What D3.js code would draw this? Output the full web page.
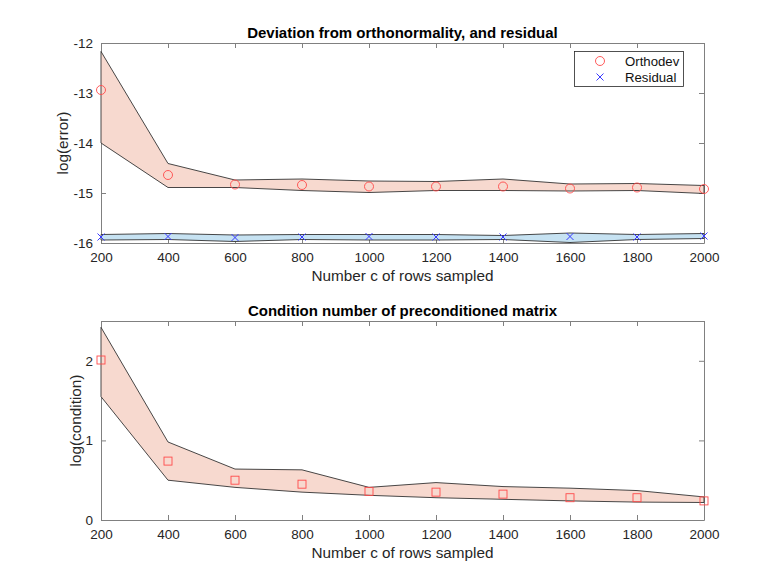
<!DOCTYPE html>
<html lang="en">
<head>
    <meta charset="UTF-8">
    <title>Orthonormality and condition number</title>
    <script src="https://d3js.org/d3.v7.min.js"></script>
    <style>
        body { margin: 0; background: #fff; }
        svg { display: block; font-family: "Liberation Sans", Arial, sans-serif; }
    </style>
</head>
<body>
    <div id="chart"></div>

    <script>
        // rows sampled
        const rows = [200, 400, 600, 800, 1000, 1200, 1400, 1600, 1800, 2000];

        // top panel: log(error)
        const orthoMean  = [-12.94, -14.64, -14.83, -14.84, -14.87, -14.87, -14.87, -14.91, -14.89, -14.92];
        const orthoUpper = [-12.17, -14.41, -14.74, -14.72, -14.76, -14.77, -14.72, -14.82, -14.81, -14.85];
        const orthoLower = [-14.00, -14.89, -14.89, -14.95, -14.99, -14.95, -14.95, -14.96, -14.95, -15.01];

        const residMean  = [-15.88, -15.87, -15.89, -15.88, -15.87, -15.88, -15.88, -15.87, -15.88, -15.86];
        const residUpper = [-15.83, -15.81, -15.84, -15.83, -15.83, -15.83, -15.85, -15.80, -15.83, -15.81];
        const residLower = [-15.94, -15.93, -15.97, -15.93, -15.94, -15.94, -15.93, -15.99, -15.93, -15.91];

        // bottom panel: log(condition)
        const condMean  = [2.01, 0.74, 0.50, 0.45, 0.36, 0.35, 0.325, 0.28, 0.28, 0.24];
        const condUpper = [2.42, 0.98, 0.64, 0.63, 0.41, 0.47, 0.42, 0.40, 0.37, 0.29];
        const condLower = [1.55, 0.50, 0.41, 0.35, 0.31, 0.28, 0.26, 0.24, 0.225, 0.22];

        const xTicks = [200, 400, 600, 800, 1000, 1200, 1400, 1600, 1800, 2000];
        const errTicks = [-16, -15, -14, -13, -12];
        const condTicks = [0, 1, 2];

        const width = 778, height = 584;
        const left = 101, right = 704;
        const axisColor = "#808080";
        const orangeFill = "#f7d9cf", blueFill = "#c6e2f2";
        const plain = d => String(d);   // ascii minus, no thousands comma

        const svg = d3.select("#chart").append("svg")
            .attr("width", width)
            .attr("height", height);

        const x = d3.scaleLinear().domain([200, 2000]).range([left, right]);

        function panel(y0, y1, yDomain, yTicks, title, yLabel, yLabelX) {
            const y = d3.scaleLinear().domain(yDomain).range([y1, y0]);
            const g = svg.append("g");

            // axes: ticks pointing inward, mirrored on top and right
            g.append("g")
                .attr("transform", `translate(0,${y1})`)
                .call(d3.axisBottom(x).tickValues(xTicks).tickFormat(plain)
                    .tickSizeInner(-5).tickSizeOuter(0).tickPadding(9));
            g.append("g")
                .attr("transform", `translate(0,${y0})`)
                .call(d3.axisTop(x).tickValues(xTicks).tickSizeInner(-5).tickSizeOuter(0).tickFormat(""));
            g.append("g")
                .attr("transform", `translate(${left},0)`)
                .call(d3.axisLeft(y).tickValues(yTicks).tickFormat(plain)
                    .tickSizeInner(-5).tickSizeOuter(0).tickPadding(8));
            g.append("g")
                .attr("transform", `translate(${right},0)`)
                .call(d3.axisRight(y).tickValues(yTicks).tickSizeInner(-5).tickSizeOuter(0).tickFormat(""));

            g.selectAll(".domain, .tick line").attr("stroke", axisColor);
            g.selectAll(".tick text")
                .attr("fill", "#262626")
                .style("font-size", "13.5px")
                .style("font-family", "Liberation Sans, Arial, sans-serif");

            g.append("text")
                .attr("x", (left + right) / 2)
                .attr("y", y0 - 5)
                .attr("text-anchor", "middle")
                .style("font-size", "15px")
                .style("font-weight", "bold")
                .text(title);

            g.append("text")
                .attr("x", (left + right) / 2)
                .attr("y", y1 + 38)
                .attr("text-anchor", "middle")
                .attr("fill", "#262626")
                .style("font-size", "15.3px")
                .text("Number c of rows sampled");

            g.append("text")
                .attr("transform", `translate(${yLabelX},${(y0 + y1) / 2}) rotate(-90)`)
                .attr("text-anchor", "middle")
                .attr("fill", "#262626")
                .style("font-size", "15.3px")
                .text(yLabel);

            return { g, y };
        }

        function band(p, upper, lower, fill) {
            const area = d3.area()
                .x((d, i) => x(rows[i]))
                .y0((d, i) => p.y(lower[i]))
                .y1((d, i) => p.y(upper[i]));
            p.g.append("path")
                .datum(rows)
                .attr("d", area)
                .attr("fill", fill)
                .attr("stroke", "#333")
                .attr("stroke-width", 0.9);
        }

        function circles(p, vals) {
            p.g.append("g").selectAll("circle")
                .data(vals).join("circle")
                .attr("cx", (d, i) => x(rows[i]))
                .attr("cy", d => p.y(d))
                .attr("r", 4.5)
                .attr("fill", "none")
                .attr("stroke", "#ff4a4a")
                .attr("stroke-width", 0.9);
        }

        function squares(p, vals) {
            p.g.append("g").selectAll("rect")
                .data(vals).join("rect")
                .attr("x", (d, i) => x(rows[i]) - 4)
                .attr("y", d => p.y(d) - 4)
                .attr("width", 8)
                .attr("height", 8)
                .attr("fill", "none")
                .attr("stroke", "#ff4a4a")
                .attr("stroke-width", 0.9);
        }

        function crosses(p, vals) {
            const s = 3.5;
            p.g.append("g").selectAll("path")
                .data(vals).join("path")
                .attr("d", (d, i) => {
                    const cx = x(rows[i]), cy = p.y(d);
                    return `M${cx - s},${cy - s}L${cx + s},${cy + s}M${cx - s},${cy + s}L${cx + s},${cy - s}`;
                })
                .attr("stroke", "#3a3aff")
                .attr("stroke-width", 1);
        }

        // top panel
        const topP = panel(43, 243, [-16, -12], errTicks,
            "Deviation from orthonormality, and residual", "log(error)", 68);
        band(topP, orthoUpper, orthoLower, orangeFill);
        band(topP, residUpper, residLower, blueFill);
        circles(topP, orthoMean);
        crosses(topP, residMean);

        // legend
        const lg = topP.g.append("g");
        lg.append("rect")
            .attr("x", 574.5).attr("y", 51.5)
            .attr("width", 109).attr("height", 35)
            .attr("fill", "#fff").attr("stroke", "#262626").attr("stroke-width", 0.8);
        lg.append("circle")
            .attr("cx", 600).attr("cy", 61).attr("r", 4.5)
            .attr("fill", "none").attr("stroke", "#ff4a4a").attr("stroke-width", 0.9);
        lg.append("path")
            .attr("d", "M596.5,73.5L603.5,80.5M596.5,80.5L603.5,73.5")
            .attr("stroke", "#3a3aff").attr("stroke-width", 1);
        lg.append("text").attr("x", 625).attr("y", 65.5)
            .style("font-size", "13.2px").attr("fill", "#111").text("Orthodev");
        lg.append("text").attr("x", 625).attr("y", 81.5)
            .style("font-size", "13.2px").attr("fill", "#111").text("Residual");

        // bottom panel
        const botP = panel(321, 520, [0, 2.5], condTicks,
            "Condition number of preconditioned matrix", "log(condition)", 81);
        band(botP, condUpper, condLower, orangeFill);
        squares(botP, condMean);
    </script>
</body>
</html>
